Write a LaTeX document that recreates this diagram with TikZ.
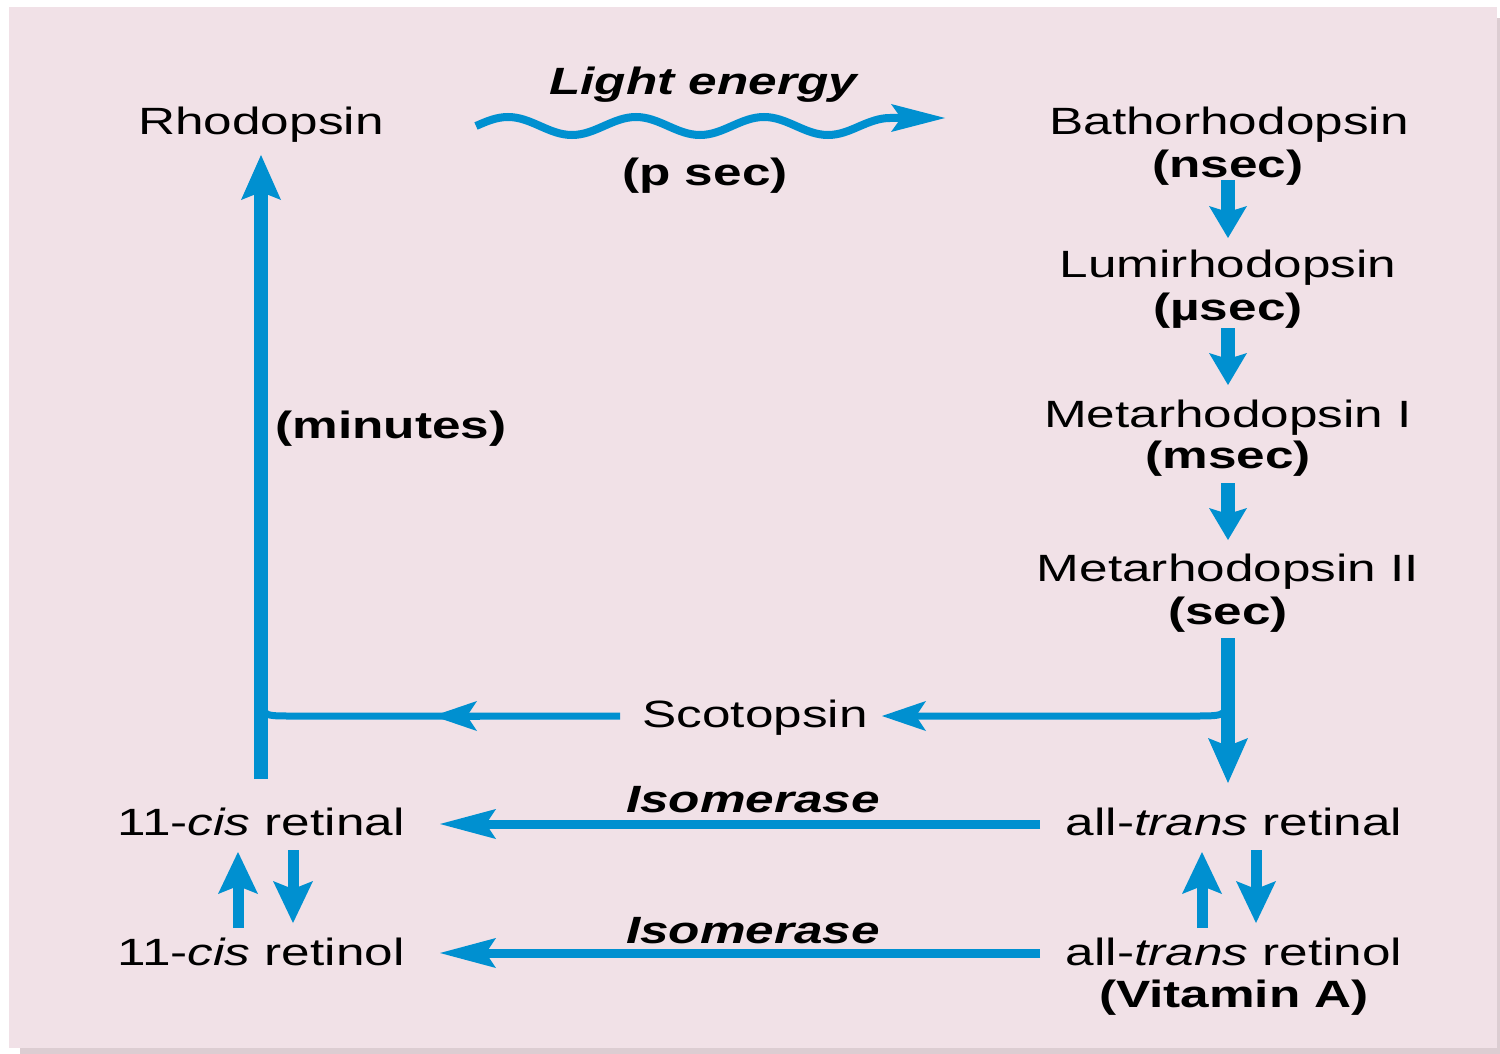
\documentclass[tikz,border=0pt]{standalone}
\usepackage{fontspec}
\setmainfont{Liberation Sans}[FakeStretch=1.35]
\usetikzlibrary{arrows.meta,calc}
\definecolor{bgpink}{RGB}{241,225,231}
\definecolor{bgshadow}{RGB}{220,205,210}
\definecolor{arrowblue}{RGB}{0,144,208}
\begin{document}
\begin{tikzpicture}[x=0.5pt,y=-0.5pt,
  lbl/.style={anchor=base,inner sep=0pt,font=\fontsize{19pt}{21pt}\selectfont},
  tm/.style={anchor=base,inner sep=0pt,font=\fontsize{19pt}{21pt}\selectfont\bfseries},
  enz/.style={anchor=base,inner sep=0pt,font=\fontsize{19pt}{21pt}\selectfont\bfseries\itshape},
  bigarr/.style={draw=arrowblue,line width=7pt,-{Stealth[length=22.5pt,width=20pt,inset=4pt,line width=0pt,fill=arrowblue]}},
  steparr/.style={draw=arrowblue,line width=7pt,-{Stealth[length=16pt,width=19pt,inset=3pt,line width=0pt,fill=arrowblue]}},
  smallarr/.style={draw=arrowblue,line width=5.5pt,-{Stealth[length=21pt,width=20pt,inset=4pt,line width=0pt,fill=arrowblue]}},
  isoarr/.style={draw=arrowblue,line width=4.5pt,-{Stealth[length=28pt,width=15pt,inset=5pt,line width=0pt,fill=arrowblue]}},
  scotarr/.style={draw=arrowblue,line width=3.5pt,-{Stealth[length=22pt,width=15pt,inset=5pt,line width=0pt,fill=arrowblue]}},
  scotline/.style={draw=arrowblue,line width=3.5pt},
  wavearr/.style={draw=arrowblue,line width=4pt,-{Stealth[length=27pt,width=14pt,inset=5pt,line width=0pt,fill=arrowblue]}}
]
\useasboundingbox (0,0) rectangle (1500,1054);
\fill[white] (0,0) rectangle (1500,1054);
\fill[bgshadow] (20,18) rectangle (1500,1054);
\fill[bgpink] (9,7) rectangle (1497,1048);

% labels
\node[lbl] (rho) at (261,134) {Rhodopsin};
\node[enz] (light) at (703,95) {Light energy};
\node[tm] (psec) at (705,185) {(p sec)};
\node[lbl] (batho) at (1229,134) {Bathorhodopsin};
\node[tm] (nsec) at (1228,177) {(nsec)};
\node[lbl] (lumi) at (1228,278) {Lumirhodopsin};
\node[tm] (usec) at (1228,320) {(µsec)};
\node[lbl] (meta1) at (1228,427) {Metarhodopsin I};
\node[tm] (msec) at (1228,468) {(msec)};
\node[lbl] (meta2) at (1228,581) {Metarhodopsin II};
\node[tm] (sec) at (1228,624) {(sec)};
\node[lbl] (scot) at (755,727) {Scotopsin};
\node[tm] (minutes) at (391,438) {(minutes)};
\node[lbl] (cisal) at (261,835) {11-\textit{cis} retinal};
\node[lbl] (cisol) at (261,965) {11-\textit{cis} retinol};
\node[lbl] (transal) at (1234,835) {all-\textit{trans} retinal};
\node[lbl] (transol) at (1234,965) {all-\textit{trans} retinol};
\node[tm] (vita) at (1234,1007) {(Vitamin A)};
\node[enz] (iso1) at (753,812) {Isomerase};
\node[enz] (iso2) at (753,943) {Isomerase};

% light wave
\draw[wavearr] ($(rho.base)+(215,-8)$) sin ++(32,-9) cos ++(32,9) sin ++(32,9) cos ++(32,-9)
  sin ++(32,-9) cos ++(32,9) sin ++(32,9) cos ++(32,-9)
  sin ++(32,-9) cos ++(32,9) sin ++(32,9) cos ++(32,-9)
  sin ++(30,-8) -- ($(batho.base)+(-284,-16)$);

% cascade
\draw[steparr] ($(nsec.base)+(0,3)$) -- ($(lumi.base)+(0,-40)$);
\draw[steparr] ($(usec.base)+(0,8)$) -- ($(meta1.base)+(0,-42)$);
\draw[steparr] ($(msec.base)+(0,15)$) -- ($(meta2.base)+(0,-41)$);
\draw[scotarr] ($(sec.base)+(0,64)$) .. controls ($(sec.base)+(0,92)$) .. ($(sec.base)+(-33,92)$) -- ($(scot.base)+(127,-11)$);
\draw[bigarr] ($(sec.base)+(0,14)$) -- ($(sec.base |- transal.base)+(0,-52)$);

% scotopsin to rhodopsin
\draw[scotline] ($(scot.base)+(-135,-11)$) -- ($(rho.base |- scot.base)+(29,-11)$) .. controls ($(rho.base |- scot.base)+(0,-11)$) .. ($(rho.base |- scot.base)+(0,-39)$);
\draw[scotarr] ($(scot.base)+(-275,-11)$) -- ($(scot.base)+(-322,-11)$);
\draw[bigarr] ($(cisal.base)+(0,-56)$) -- ($(rho.base)+(0,21)$);

% isomerase
\draw[isoarr] ($(transal.base)+(-194,-11)$) -- ($(cisal.base)+(179,-11)$);
\draw[isoarr] ($(transol.base)+(-194,-12)$) -- ($(cisol.base)+(179,-12)$);

% small reversible arrows
\draw[smallarr] ($(cisol.base)+(-23,-37)$) -- ($(cisal.base)+(-23,17)$);
\draw[smallarr] ($(cisal.base)+(32,15)$) -- ($(cisol.base)+(32,-42)$);
\draw[smallarr] ($(transol.base)+(-32,-37)$) -- ($(transal.base)+(-32,17)$);
\draw[smallarr] ($(transal.base)+(22,15)$) -- ($(transol.base)+(22,-42)$);
\end{tikzpicture}
\end{document}
